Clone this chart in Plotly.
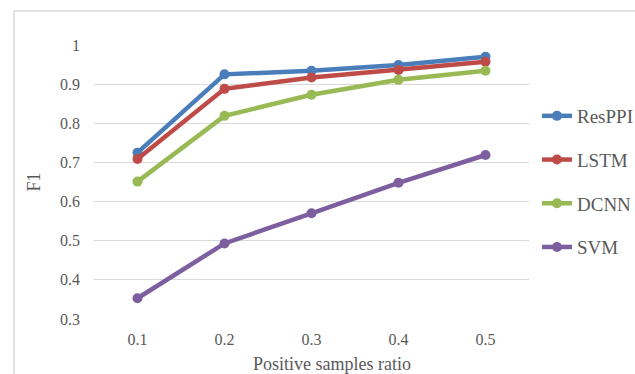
import plotly.graph_objects as go

categories = ["0.1", "0.2", "0.3", "0.4", "0.5"]
series_names = ["ResPPI", "LSTM", "DCNN", "SVM"]
resppi = [0.725, 0.925, 0.934, 0.949, 0.970]
lstm = [0.709, 0.888, 0.917, 0.936, 0.957]
dcnn = [0.651, 0.819, 0.873, 0.911, 0.934]
svm = [0.353, 0.493, 0.570, 0.648, 0.719]
y_ticks = [0.3, 0.4, 0.5, 0.6, 0.7, 0.8, 0.9, 1.0]
y_tick_labels = ["0.3", "0.4", "0.5", "0.6", "0.7", "0.8", "0.9", "1"]
x_title = "Positive samples ratio"
y_title = "F1"

colors = ["#4A7EBB", "#BE4B48", "#98B954", "#7D5FA0"]
values = [resppi, lstm, dcnn, svm]

W, H = 635, 374
L, R, T, B = 94, 635 - 529, 45, 374 - 319
pw, ph = W - L - R, H - T - B

fig = go.Figure()
for name, vals, c in zip(series_names, values, colors):
    fig.add_trace(go.Scatter(
        x=categories, y=vals, name=name, mode="lines+markers",
        line=dict(color=c, width=4.5),
        marker=dict(color=c, size=10),
        legendgroup=name,
    ))

font_family = "'Liberation Serif', 'Times New Roman', serif"
txt = "#595959"
fig.update_layout(
    width=W, height=H,
    margin=dict(l=L, r=R, t=T, b=B, autoexpand=False),
    paper_bgcolor="white", plot_bgcolor="white",
    font=dict(family=font_family, color=txt, size=16),
    showlegend=True,
    legend=dict(
        x=(537 - L) / pw, y=1 - (97 - T) / ph, xanchor="left", yanchor="top",
        font=dict(size=19, color=txt, family=font_family),
        tracegroupgap=16, bgcolor="rgba(0,0,0,0)",
        itemwidth=30,
    ),
    xaxis=dict(
        type="category", range=[-0.5, 4.5], showgrid=False, zeroline=False,
        showline=False, ticks="", tickfont=dict(size=16, color=txt, family=font_family),
        ticklabelstandoff=9,
        automargin=False,
    ),
    yaxis=dict(
        range=[0.3, 1.0], tickvals=y_ticks, ticktext=y_tick_labels,
        showgrid=True, gridcolor="#D9D9D9", gridwidth=1.3, zeroline=False,
        showline=False, ticks="", tickfont=dict(size=16, color=txt, family=font_family),
        ticklabelstandoff=13,
        title=dict(text=y_title, font=dict(size=18, color=txt, family=font_family), standoff=14),
        automargin=False,
    ),
)

fig.add_annotation(
    text=x_title, xref="paper", yref="paper",
    x=(332 - L) / pw, y=-(364 - 319) / ph, xanchor="center", yanchor="middle",
    showarrow=False, font=dict(size=18, color=txt, family=font_family),
)

# outer chart border (top and left edges visible)
x_left = (14 - L) / pw
x_right = (W - L) / pw
y_top = 1 + (T - 11) / ph
y_bottom = -B / ph
fig.add_shape(type="line", xref="paper", yref="paper", x0=x_left, x1=x_right,
              y0=y_top, y1=y_top, line=dict(color="#D9D9D9", width=1.5))
fig.add_shape(type="line", xref="paper", yref="paper", x0=x_left, x1=x_left,
              y0=y_top, y1=y_bottom, line=dict(color="#D9D9D9", width=1.5))

fig.write_html("out.html")
